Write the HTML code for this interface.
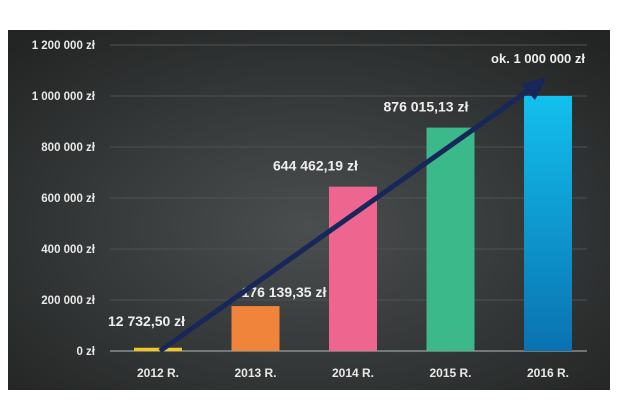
<!DOCTYPE html>
<html><head><meta charset="utf-8"><style>
html,body{margin:0;padding:0;background:#fff;}
svg{display:block;font-family:"Liberation Sans",sans-serif;}
</style></head><body>
<svg width="617" height="404" viewBox="0 0 617 404">
<defs>
<radialGradient id="bg" cx="0.5" cy="0.55" r="0.7">
<stop offset="0" stop-color="#4a4e4e"/><stop offset="1" stop-color="#232525"/>
</radialGradient>
<linearGradient id="blue" x1="0" y1="0" x2="0" y2="1">
<stop offset="0" stop-color="#12c0ee"/><stop offset="1" stop-color="#0a72b0"/>
</linearGradient>
</defs>
<rect x="8" y="30" width="602" height="360" fill="url(#bg)"/>
<g id="grid"></g><g id="bars"></g><g id="labels"></g>
<line id="arrow" x1="160" y1="351" x2="532" y2="88" stroke="#17275a" stroke-width="5"/>
<polygon points="547,77 521,84 535,100" fill="#17275a"/>
<text x="585" y="63" fill="#eee" font-size="13" font-weight="bold" text-anchor="end">ok.  1 000 000 zł</text>
</svg>
<script>
const categories=["2012 R.","2013 R.","2014 R.","2015 R.","2016 R."];
const values=[12732.5,176139.35,644462.19,876015.13,1000000];
const valueLabels=["12 732,50 zł","176 139,35 zł","644 462,19 zł","876 015,13 zł",""];
const ticks=[0,200000,400000,600000,800000,1000000,1200000];
const tickLabels=["0 zł","200 000 zł","400 000 zł","600 000 zł","800 000 zł","1 000 000 zł","1 200 000 zł"];
const colors=["#f2c81e","#f0843a","#ee6690","#3cb98a","url(#blue)"];
const NS="http://www.w3.org/2000/svg";
const y=v=>351-v/1200000*306;
const x=i=>158+i*97.5;
function mk(t,a,p){const e=document.createElementNS(NS,t);for(const k in a)e.setAttribute(k,a[k]);p.appendChild(e);return e;}
const g=document.getElementById('grid'),b=document.getElementById('bars'),l=document.getElementById('labels');
ticks.forEach((t,i)=>{
 const ln=mk('line',{x1:110,x2:587,y1:y(t),y2:y(t),stroke:t===0?'#8a8d8d':'#4e5252','stroke-width':t===0?1.5:1},g);
 
 
 const tx=mk('text',{x:95,y:y(t)+4,fill:'#e8e8e8','font-size':11.5,'font-weight':'bold','text-anchor':'end'},g);
 tx.textContent=tickLabels[i];
 
 
});
const lblPos=[[-50,-22],[-14,-9],[-80,-16],[-67,-16]];
values.forEach((v,i)=>{
 const r=mk('rect',{x:x(i)-24,y:y(v),width:48,height:351-y(v),fill:colors[i]},b);
 
 
 const c=mk('text',{x:x(i),y:377,fill:'#e8e8e8','font-size':12,'font-weight':'bold','text-anchor':'middle'},l);
 c.textContent=categories[i];
 
 
 if(valueLabels[i]){
  const t=mk('text',{x:x(i)+lblPos[i][0],y:y(v)+lblPos[i][1],fill:'#eee','font-size':14,'font-weight':'bold'},l);
  t.textContent=valueLabels[i];
  
  
 }
});
</script>
</body></html>
